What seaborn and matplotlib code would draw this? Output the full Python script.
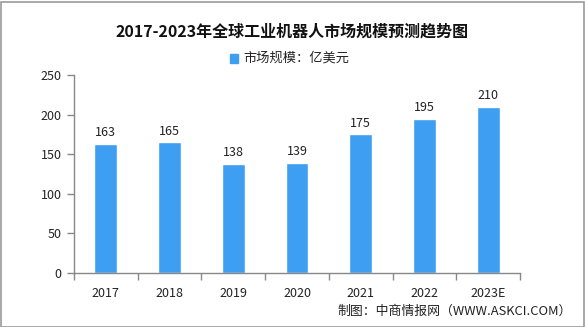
import matplotlib
matplotlib.use("Agg")
import matplotlib.pyplot as plt
import seaborn as sns
import pandas as pd
from matplotlib.patches import Rectangle

years = ["2017", "2018", "2019", "2020", "2021", "2022", "2023E"]
market_size = [163, 165, 138, 139, 175, 195, 210]
y_ticks = [0, 50, 100, 150, 200, 250]

sns.set_theme(style="white")
plt.rcParams["font.family"] = ["Noto Sans CJK SC", "DejaVu Sans"]

df = pd.DataFrame({"year": years, "value": market_size})

fig = plt.figure(figsize=(5.85, 3.27), dpi=100)
ax = fig.add_axes([74 / 585, 1 - 273 / 327, (520 - 74) / 585, (273 - 75) / 327])

bar_color = "#3d9ef2"
sns.barplot(data=df, x="year", y="value", color=bar_color, width=0.36,
            saturation=1, ax=ax)

for i, v in enumerate(market_size):
    ax.text(i, v + 6, str(v), ha="center", va="bottom", fontsize=9, color="#222222")

ax.set_ylim(0, 250)
ax.set_xlim(-0.5, len(years) - 0.5)
ax.set_yticks(y_ticks)
ax.set_yticklabels([str(t) for t in y_ticks], fontsize=9, color="#222222")
ax.set_xticks(range(len(years)))
ax.set_xticklabels(years, fontsize=9, color="#222222")
ax.tick_params(axis="x", length=0, pad=10)
ax.tick_params(axis="y", length=5, width=1, color="#888888", pad=4, left=True)
# category boundary ticks along the x axis
ax.set_xticks([i - 0.5 for i in range(len(years) + 1)], minor=True)
ax.tick_params(axis="x", which="minor", length=5, width=1, color="#888888", bottom=True)
ax.set_xlabel("")
ax.set_ylabel("")

for side in ["top", "right"]:
    ax.spines[side].set_visible(False)
for side in ["left", "bottom"]:
    ax.spines[side].set_color("#888888")
    ax.spines[side].set_linewidth(1)

fig.text(0.5, 1 - 32 / 327, "2017-2023年全球工业机器人市场规模预测趋势图",
         ha="center", va="center", fontsize=11.5, fontweight="bold", color="#111111")

# legend
fig.patches.append(Rectangle((230 / 585, 1 - 63 / 327), 8 / 585, 9 / 327,
                             transform=fig.transFigure, color=bar_color))
fig.text(243 / 585, 1 - 58 / 327, "市场规模：亿美元", ha="left", va="center",
         fontsize=9.5, color="#222222")

fig.text(572 / 585, 1 - 311 / 327, "制图：中商情报网（WWW.ASKCI.COM）",
         ha="right", va="center", fontsize=9.3, color="#222222")

# outer frame
fig.patches.append(Rectangle((0.5 / 585, 0.5 / 327), 583 / 585, 325 / 327,
                             transform=fig.transFigure, fill=False,
                             edgecolor="#999999", linewidth=1.2))

fig.savefig("out.png", dpi=100)
